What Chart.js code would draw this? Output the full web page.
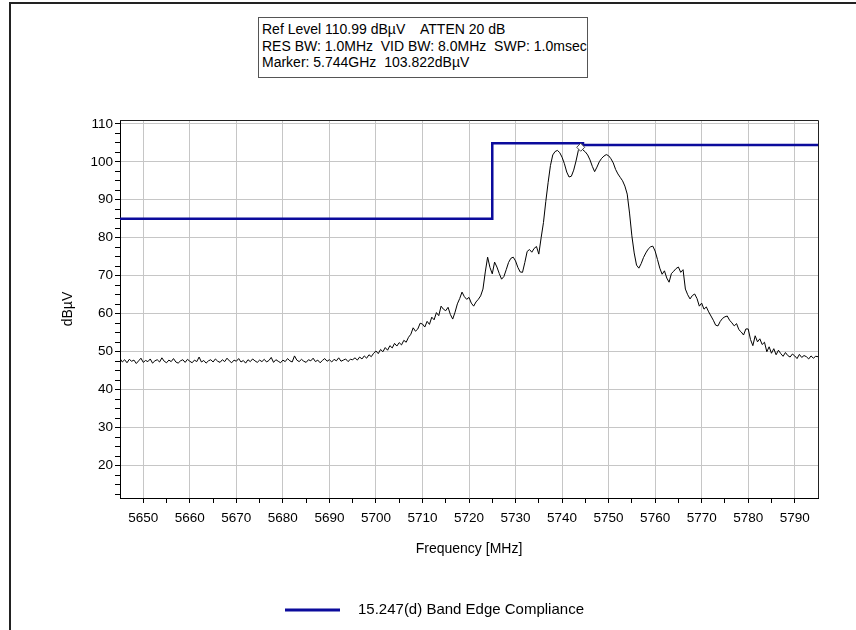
<!DOCTYPE html>
<html>
<head>
<meta charset="utf-8">
<title>Band Edge Compliance</title>
<script src="https://cdn.jsdelivr.net/npm/chart.js@4/dist/chart.umd.min.js"></script>
<style>
    body { margin: 0; background: #fff; }
    #wrap { position: relative; width: 856px; height: 630px; overflow: hidden; background: #fff; }
    #chart { position: absolute; left: 0; top: 0; }
    #frame {
        position: absolute; left: 9px; top: 2px; width: 900px; height: 700px;
        border-top: 2px solid #222; border-left: 2px solid #222; pointer-events: none;
    }
    #info {
        position: absolute; left: 258px; top: 17px; width: 330px; height: 61px;
        box-sizing: border-box; border: 1px solid #555; overflow: hidden;
        padding: 3px 0 0 3px; font: 14px "Liberation Sans", Arial, sans-serif;
        line-height: 16.5px; white-space: pre; color: #000; background: #fff;
    }
</style>
</head>
<body>
<div id="wrap">
    <canvas id="chart" width="856" height="630"></canvas>
    <div id="frame"></div>
    <div id="info">Ref Level 110.99 dBµV    ATTEN 20 dB
RES BW: 1.0MHz  VID BW: 8.0MHz  SWP: 1.0msec
Marker: 5.744GHz  103.822dBµV</div>
</div>
<script>
// Sweep: 5645 MHz to 5795 MHz, one reading every 0.5 MHz
const traceStartMHz = 5645;
const traceStepMHz = 0.5;
const traceLevel = [
    48.2,47.3,47.9,47.1,48.0,47.5,47.8,46.9,47.6,48.3,47.2,47.7,47.4,48.1,47.0,47.6,47.9,47.3,48.4,47.5,
    47.1,47.8,47.4,48.2,47.3,47.0,47.6,47.9,47.2,48.0,47.5,47.1,47.8,47.4,48.6,47.3,47.7,47.0,47.6,47.9,
    47.3,48.1,47.5,47.2,47.9,47.4,48.3,47.6,47.1,47.8,47.5,48.2,47.3,47.7,47.0,47.9,47.4,48.1,47.6,47.2,
    47.8,47.4,48.0,47.3,47.7,48.5,47.2,47.9,47.5,47.1,47.8,47.4,48.2,47.6,47.3,48.9,47.8,47.4,48.0,47.5,
    47.2,47.9,47.6,48.3,47.4,47.8,47.1,47.7,48.2,47.5,47.9,47.3,48.0,47.6,48.4,47.5,47.8,48.1,47.4,48.0,
    47.9,48.4,47.8,48.6,48.1,48.9,48.3,49.2,48.7,49.6,50.2,49.5,50.6,50.0,51.1,50.4,51.6,51.0,52.2,51.5,
    52.4,51.8,53.0,52.5,53.8,54.6,56.3,55.4,56.0,57.5,57.3,56.5,58.0,57.2,59.1,58.4,60.3,59.5,62.0,61.2,
    60.8,61.7,59.8,58.6,60.4,62.6,64.0,65.7,64.5,63.8,64.3,62.8,62.0,63.1,63.8,64.7,66.5,71.0,74.9,72.2,
    70.5,73.6,72.3,70.6,69.1,69.8,71.6,73.5,74.6,74.9,73.9,72.2,71.0,70.9,73.5,76.4,76.9,76.2,77.2,77.7,
    75.7,80.0,84.0,89.5,94.5,99.0,101.8,102.7,103.0,102.4,101.2,99.5,97.3,96.0,96.2,97.8,100.2,103.0,103.8,103.1,
    102.6,101.8,100.5,98.8,97.4,98.6,100.0,100.9,101.5,101.9,101.6,100.8,99.7,98.0,96.8,95.9,95.0,93.6,91.5,86.5,
    80.5,76.0,72.8,72.0,73.2,74.8,76.0,77.0,77.6,77.8,76.5,74.3,72.0,70.4,71.3,69.4,68.3,70.6,71.2,71.9,
    72.3,70.9,71.6,66.5,65.0,63.9,64.8,65.2,64.0,62.0,62.8,61.2,61.8,60.5,59.4,58.3,57.0,56.8,58.0,58.8,
    59.2,59.4,58.3,57.6,56.8,57.4,55.8,55.2,54.4,56.0,56.0,53.2,51.6,54.2,52.6,53.4,51.9,52.5,50.0,51.3,
    49.6,50.8,49.2,50.4,49.5,48.8,49.8,49.0,48.6,49.4,48.9,48.2,49.3,48.5,49.0,48.7,48.1,48.9,48.3,48.8,
    48.7
];

// 15.247(d) limit line
const limitFreq = [5645, 5725, 5725, 5744.5, 5744.5, 5795];
const limitLevel = [85, 85, 104.9, 104.9, 104.4, 104.4];

// marker
const markerFreq = [5744];
const markerLevel = [103.822];

// axes
const xTickLabels = [5650, 5660, 5670, 5680, 5690, 5700, 5710, 5720, 5730, 5740, 5750, 5760, 5770, 5780, 5790];
const yTickLabels = [20, 30, 40, 50, 60, 70, 80, 90, 100, 110];
const xMinorStep = 5;
const yMinorStep = 2.5;

const FONT = '"Liberation Sans", Arial, sans-serif';

function minorTicks(first, last, step) {
    const out = [];
    for (let v = first; v <= last + 1e-9; v += step) out.push({ value: v });
    return out;
}

const traceData = traceLevel.map((y, i) => ({ x: traceStartMHz + i * traceStepMHz, y: y }));
const limitData = limitFreq.map((x, i) => ({ x: x, y: limitLevel[i] }));
const markerData = markerFreq.map((x, i) => ({ x: x, y: markerLevel[i] }));

// plot frame (top/right) and the legend below the axis title
const framePlugin = {
    id: 'frame',
    afterDatasetsDraw(chart) {
        const { ctx, chartArea: a } = chart;
        ctx.save();
        ctx.strokeStyle = '#222';
        ctx.lineWidth = 1;
        ctx.beginPath();
        ctx.moveTo(a.left, Math.round(a.top) + 0.5);
        ctx.lineTo(Math.round(a.right) + 0.5, Math.round(a.top) + 0.5);
        ctx.lineTo(Math.round(a.right) + 0.5, a.bottom);
        ctx.stroke();
        ctx.restore();
    },
    afterDraw(chart) {
        const ctx = chart.ctx;
        const ds = chart.data.datasets[1];
        ctx.save();
        ctx.strokeStyle = ds.borderColor;
        ctx.lineWidth = 3;
        ctx.beginPath();
        ctx.moveTo(285, 610);
        ctx.lineTo(340, 610);
        ctx.stroke();
        ctx.fillStyle = '#000';
        ctx.font = '15px ' + FONT;
        ctx.textBaseline = 'middle';
        ctx.fillText(ds.label, 358, 610);
        ctx.restore();
    }
};

const ctx = document.getElementById('chart');
new Chart(ctx, {
    type: 'line',
    data: {
        datasets: [{
            label: 'Trace',
            data: traceData,
            borderColor: '#000',
            borderWidth: 1,
            pointRadius: 0,
            tension: 0,
            order: 2
        }, {
            label: '15.247(d) Band Edge Compliance',
            data: limitData,
            borderColor: '#0b0b9c',
            borderWidth: 2.5,
            pointRadius: 0,
            tension: 0,
            order: 1
        }, {
            label: 'Marker',
            data: markerData,
            showLine: false,
            pointStyle: 'rectRot',
            pointRadius: 4,
            borderColor: '#444',
            borderWidth: 1,
            backgroundColor: '#fff',
            order: 0
        }]
    },
    options: {
        responsive: false,
        animation: false,
        devicePixelRatio: 1,
        layout: { padding: { top: 120, right: 38, bottom: 70, left: 55 } },
        plugins: {
            legend: { display: false },
            tooltip: { enabled: false }
        },
        scales: {
            x: {
                type: 'linear',
                min: 5645,
                max: 5795,
                afterFit: (scale) => { scale.height = 62; },
                afterBuildTicks: (axis) => { axis.ticks = minorTicks(5650, 5790, xMinorStep); },
                ticks: {
                    autoSkip: false,
                    maxRotation: 0,
                    padding: 7,
                    color: '#000',
                    font: { family: FONT, size: 13.5 },
                    callback: (v) => xTickLabels.includes(v) ? String(v) : ''
                },
                grid: {
                    color: (c) => (c.tick && xTickLabels.includes(c.tick.value)) ? '#c6c6c6' : 'rgba(0,0,0,0)',
                    tickColor: '#000',
                    tickLength: 5,
                    lineWidth: 1
                },
                border: { color: '#000', width: 1 },
                title: {
                    display: true,
                    text: 'Frequency [MHz]',
                    color: '#000',
                    font: { family: FONT, size: 14 },
                    padding: { top: 0, bottom: 2 }
                }
            },
            y: {
                type: 'linear',
                min: 11.5,
                max: 111,
                afterFit: (scale) => { scale.width = 65; },
                afterBuildTicks: (axis) => { axis.ticks = minorTicks(12.5, 110, yMinorStep); },
                ticks: {
                    autoSkip: false,
                    padding: 2,
                    color: '#000',
                    font: { family: FONT, size: 13.5 },
                    callback: (v) => yTickLabels.includes(v) ? String(v) : ''
                },
                grid: {
                    color: (c) => (c.tick && yTickLabels.includes(c.tick.value)) ? '#c6c6c6' : 'rgba(0,0,0,0)',
                    tickColor: '#000',
                    tickLength: 5,
                    lineWidth: 1
                },
                border: { color: '#000', width: 1 },
                title: {
                    display: true,
                    text: 'dBµV',
                    color: '#000',
                    font: { family: FONT, size: 14 },
                    padding: { top: 5, bottom: 0 }
                }
            }
        }
    },
    plugins: [framePlugin]
});
</script>
</body>
</html>
